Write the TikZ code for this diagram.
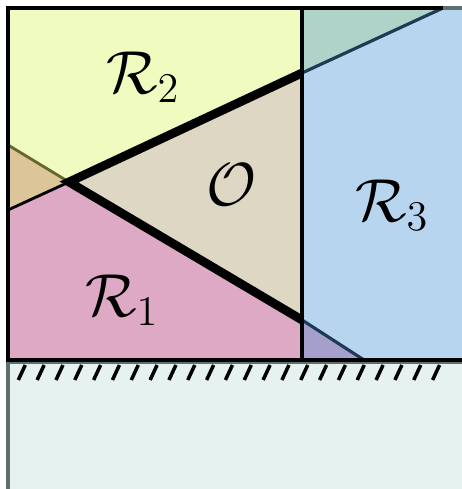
\documentclass[tikz,border=0pt]{standalone}
\usepackage{xcolor}
\usepackage{tikz}
\definecolor{reg_yellow}{RGB}{240, 251, 192}
\definecolor{reg_pink}{RGB}{222, 169, 196}
\definecolor{reg_blue}{RGB}{184, 213, 240}
\definecolor{reg_tan}{RGB}{220, 198, 153}
\definecolor{reg_teal}{RGB}{174, 211, 200}
\definecolor{reg_purple}{RGB}{165, 160, 203}
\definecolor{obs_beige}{RGB}{221, 215, 195}
\definecolor{ground_fill}{RGB}{230, 242, 239}
\definecolor{ground_edge}{RGB}{95, 110, 110}
\definecolor{edge_olive}{RGB}{100, 104, 44}
\definecolor{edge_blue}{RGB}{30, 58, 85}

\begin{document}
\begin{tikzpicture}[x=0.01cm, y=-0.01cm,
    every node/.style={font=\fontsize{16.5}{19}\selectfont}]
  \useasboundingbox (0,0) rectangle (462,489);
  \clip (0,0) rectangle (462,489);

  \coordinate (tl) at (8,8);
  \coordinate (tm) at (302,8);
  \coordinate (tr) at (462,8);
  \coordinate (bl) at (8,360);
  \coordinate (bm) at (302,360);
  \coordinate (br) at (462,360);
  \coordinate (a1) at (8,210);
  \coordinate (a2) at (8,145);
  \coordinate (p) at (69,182);
  \coordinate (q) at (302,73);
  \coordinate (s) at (302,320);
  \coordinate (t) at (443,8);
  \coordinate (g) at (364,360);

  \fill[ground_fill] (8,360) rectangle (462,489);
  \draw[ground_edge, line width=1.1pt] (8,489) -- (8,362) -- (462,362);

  \fill[reg_yellow] (tl) -- (tm) -- (q) -- (p) -- (a2) -- cycle;
  \fill[reg_tan] (a2) -- (p) -- (a1) -- cycle;
  \fill[reg_pink] (a1) -- (p) -- (s) -- (bm) -- (bl) -- cycle;
  \fill[obs_beige] (p) -- (q) -- (s) -- cycle;
  \fill[reg_teal] (tm) -- (t) -- (q) -- cycle;
  \fill[reg_blue] (t) -- (tr) -- (br) -- (g) -- (s) -- (q) -- cycle;
  \fill[reg_purple] (s) -- (g) -- (bm) -- cycle;

  \draw[line width=0.8pt] (a1) -- (p);
  \draw[edge_olive, line width=0.8pt] (a2) -- (p);
  \draw[edge_blue, line width=0.9pt] (q) -- (t);
  \draw[edge_blue, line width=0.9pt] (s) -- (g);
  \draw[line width=1.05pt] (tm) -- (bm);
  \draw[line width=2.5pt] (s) -- (p) -- (q);

  \draw[line width=1.25pt] (t) -- (tl) -- (bl) -- (br);
  \draw[ground_edge, line width=0.9pt] (t) -- (tr);

  \foreach \i in {0,...,22}
    \draw[line width=1pt] ({18.3+18.83*\i},380) -- ++(7,-15);

  \node (r2) at (143,77) {$\mathcal{R}_2$};
  \node (obs) at (232,185) {$\mathcal{O}$};
  \node (r3) at (392,205) {$\mathcal{R}_3$};
  \node (r1) at (122,300) {$\mathcal{R}_1$};
\end{tikzpicture}
\end{document}
